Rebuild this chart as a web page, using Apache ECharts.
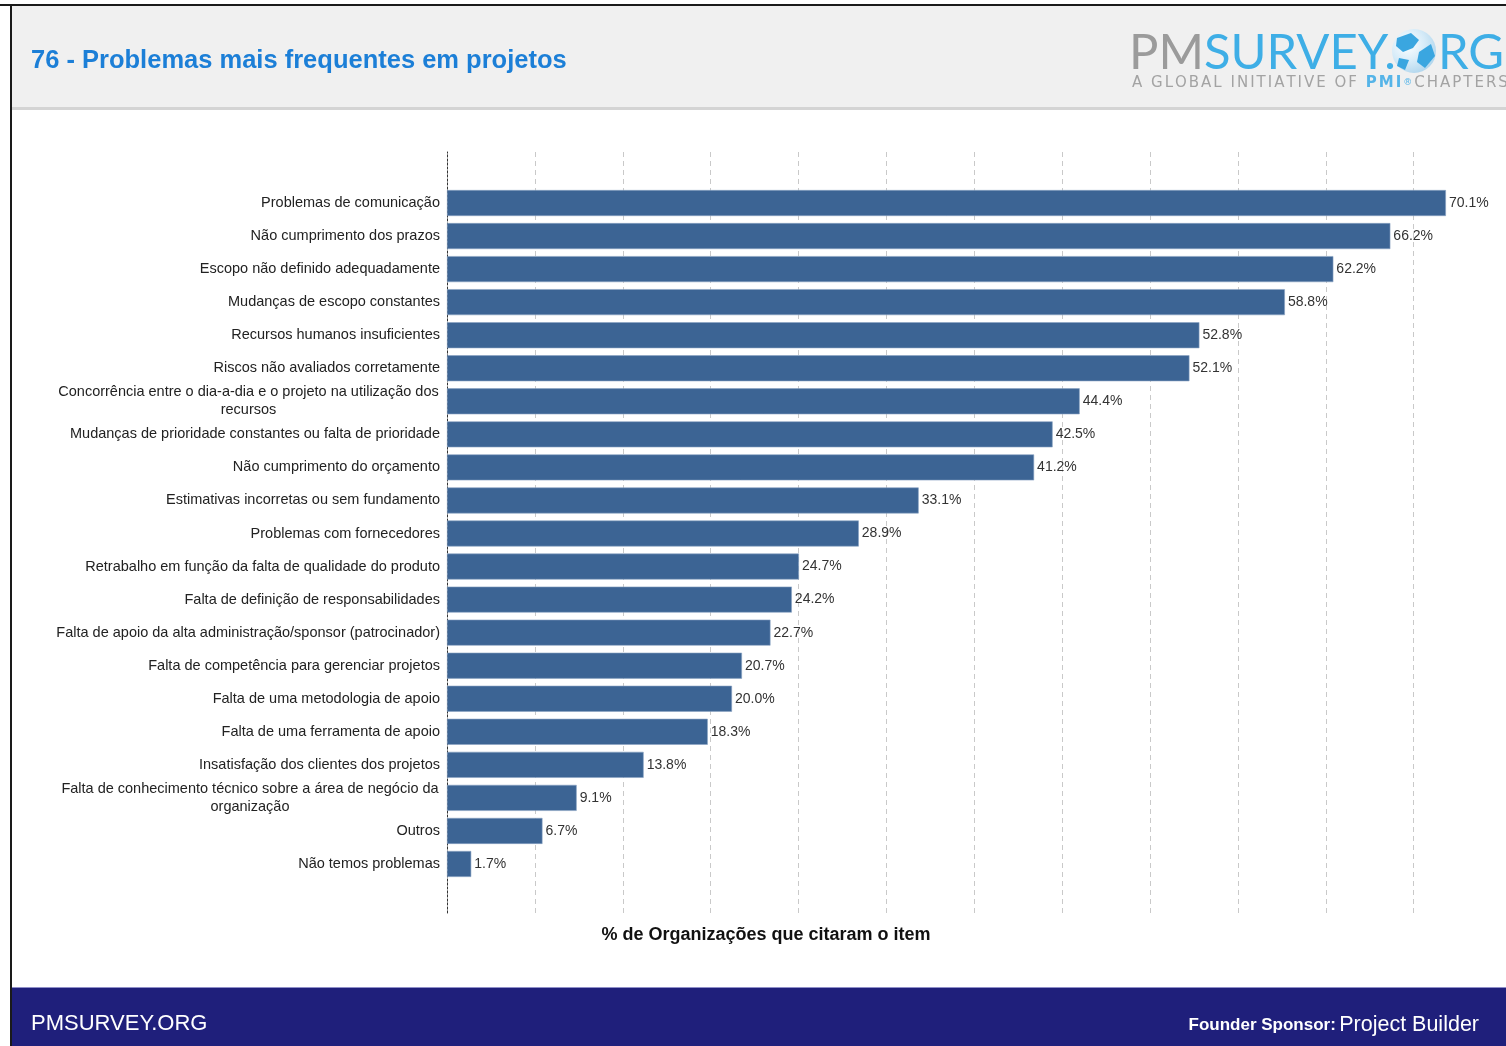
<!DOCTYPE html>
<html>
<head>
<meta charset="utf-8">
<script src="https://cdn.jsdelivr.net/npm/echarts@6/dist/echarts.min.js"></script>
<style>
html,body{margin:0;padding:0;background:#fff;}
#chart{width:1506px;height:1046px;}
</style>
</head>
<body>
<div id="chart"></div>
<script>
const categories = [
  "Problemas de comunicação",
  "Não cumprimento dos prazos",
  "Escopo não definido adequadamente",
  "Mudanças de escopo constantes",
  "Recursos humanos insuficientes",
  "Riscos não avaliados corretamente",
  "Concorrência entre o dia-a-dia e o projeto na utilização dos\nrecursos",
  "Mudanças de prioridade constantes ou falta de prioridade",
  "Não cumprimento do orçamento",
  "Estimativas incorretas ou sem fundamento",
  "Problemas com fornecedores",
  "Retrabalho em função da falta de qualidade do produto",
  "Falta de definição de responsabilidades",
  "Falta de apoio da alta administração/sponsor (patrocinador)",
  "Falta de competência para gerenciar projetos",
  "Falta de uma metodologia de apoio",
  "Falta de uma ferramenta de apoio",
  "Insatisfação dos clientes dos projetos",
  "Falta de conhecimento técnico sobre a área de negócio da\norganização",
  "Outros",
  "Não temos problemas"
];
const percentValues = [70.1, 66.2, 62.2, 58.8, 52.8, 52.1, 44.4, 42.5, 41.2, 33.1, 28.9, 24.7, 24.2, 22.7, 20.7, 20.0, 18.3, 13.8, 9.1, 6.7, 1.7];
const titleText = "76 - Problemas mais frequentes em projetos";
const axisTitle = "% de Organizações que citaram o item";

const FONT = '"Liberation Sans", Arial, sans-serif';
const LABEL_SIZE = 14.5;
const chart = echarts.init(document.getElementById('chart'), null, {renderer: 'canvas'});

const cv = document.createElement('canvas').getContext('2d');
cv.font = LABEL_SIZE + 'px ' + FONT;
function measure(t){ return Math.ceil(cv.measureText(t).width); }

const X_MAX = 74;
const X_INT = X_MAX / 12;

const yData = categories.map(function(c){
  if (c.indexOf('\n') >= 0) {
    const lines = c.split('\n');
    const w = Math.max.apply(null, lines.map(measure)) + 2;
    return {
      value: c,
      textStyle: {
        rich: { w: { width: w, align: 'center', fontSize: LABEL_SIZE, fontFamily: FONT, color: '#222', lineHeight: 18 } }
      }
    };
  }
  return c;
});

const LOGO_FONT = 'Lato, "Open Sans", sans-serif';
// letter-spaced subtitle via rich tokens
function spaced(str, key){
  return str.split('').map(function(ch){ return '{' + key + '|' + ch + '}'; }).join('');
}
const subtitleRich = spaced('A GLOBAL INITIATIVE OF ', 'g') + spaced('PMI', 'b') + '{s|®}' + spaced('CHAPTERS', 'g');
const SUB_FONT = '"DejaVu Sans", sans-serif';

const option = {
  animation: false,
  backgroundColor: '#ffffff',
  graphic: [
    { type: 'rect', shape: {x: 12, y: 6, width: 1494, height: 102}, style: {fill: '#f0f0f0'}, z: 0 },
    { type: 'rect', shape: {x: 12, y: 107, width: 1494, height: 3}, style: {fill: '#d4d4d4'}, z: 0 },
    { type: 'rect', shape: {x: 0, y: 4, width: 1506, height: 2}, style: {fill: '#1a1a1a'}, z: 1 },
    { type: 'rect', shape: {x: 10, y: 4, width: 2, height: 1042}, style: {fill: '#1a1a1a'}, z: 1 },
    { type: 'text', x: 31, y: 61, style: { text: titleText, verticalAlign: 'middle', fill: '#1c7fd7', font: 'bold 25.5px ' + FONT }, z: 2 },
    { type: 'text', x: 1129, y: 53, style: {
        text: '{g|PM}{b|SURVEY.}', verticalAlign: 'middle',
        rich: { g: {fill: '#9b9b9b', fontSize: 49, fontFamily: LOGO_FONT},
                b: {fill: '#3eaee6', fontSize: 49, fontFamily: LOGO_FONT} } }, z: 2 },
    { type: 'circle', shape: {cx: 1414, cy: 51, r: 22}, style: {
        fill: new echarts.graphic.RadialGradient(0.35, 0.35, 0.8, [
          {offset: 0, color: '#ffffff'}, {offset: 0.5, color: '#d6ebf8'}, {offset: 1, color: '#a6d0ea'}]) }, z: 3 },
    { type: 'polygon', shape: {points: [[1397,38],[1411,33],[1419,40],[1413,48],[1403,52],[1396,46]]}, style: {fill: '#3aa6e0'}, z: 4 },
    { type: 'polygon', shape: {points: [[1419,52],[1431,44],[1435,56],[1425,68],[1417,62]]}, style: {fill: '#3aa6e0'}, z: 4 },
    { type: 'polygon', shape: {points: [[1399,58],[1409,60],[1405,70],[1397,66]]}, style: {fill: '#3aa6e0'}, z: 4 },
    { type: 'text', x: 1438, y: 53, style: { text: 'RG', verticalAlign: 'middle', fill: '#3eaee6', font: '49px ' + LOGO_FONT }, z: 2 },
    { type: 'text', x: 1132, y: 83, style: {
        text: subtitleRich, verticalAlign: 'middle',
        rich: { g: {fill: '#a3a3a3', fontSize: 15, fontFamily: SUB_FONT, padding: [0, 2, 0, 0]},
                b: {fill: '#55b4e8', fontSize: 15, fontFamily: SUB_FONT, fontWeight: 'bold', padding: [0, 2, 0, 0]},
                s: {fill: '#55b4e8', fontSize: 9, fontFamily: SUB_FONT, padding: [0, 2, 0, 0]} } }, z: 2 },
    { type: 'text', x: 766, y: 935, style: { text: axisTitle, align: 'center', verticalAlign: 'middle', fill: '#111', font: 'bold 18px ' + FONT }, z: 2 },
    { type: 'rect', shape: {x: 12, y: 988, width: 1494, height: 58}, style: {fill: '#1f1f7b'}, z: 0 },
    { type: 'rect', shape: {x: 12, y: 987, width: 1494, height: 1}, style: {fill: '#8f8fc8'}, z: 0 },
    { type: 'text', x: 31, y: 1024, style: { text: 'PMSURVEY.ORG', verticalAlign: 'middle', fill: '#ffffff', font: '22px ' + FONT }, z: 2 },
    { type: 'text', x: 1479, y: 1025, style: {
        text: '{a|Founder Sponsor:} {b|Project Builder}', align: 'right', verticalAlign: 'middle',
        rich: { a: {fill: '#ffffff', fontSize: 17, fontWeight: 'bold', fontFamily: FONT},
                b: {fill: '#ffffff', fontSize: 21.5, fontFamily: FONT} } }, z: 2 }
  ],
  grid: [
    { left: 447, top: 152, width: X_MAX * 14.25, height: 761, containLabel: false },
    { left: 447, top: 186.5, width: X_MAX * 14.25, height: 694, containLabel: false }
  ],
  xAxis: [
    { type: 'value', gridIndex: 0, min: 0, max: X_MAX, interval: X_INT,
      axisLine: {show: false}, axisTick: {show: false}, axisLabel: {show: false},
      splitLine: {show: true, showMaxLine: false, lineStyle: {color: '#c9c9c9', width: 1, type: [5, 4]}} },
    { type: 'value', gridIndex: 1, min: 0, max: X_MAX, interval: X_INT, show: false, splitLine: {show: false} }
  ],
  yAxis: [
    { type: 'value', gridIndex: 0, min: 0, max: 1,
      axisLine: {show: true, lineStyle: {color: '#333', width: 1, type: [2, 2]}},
      axisTick: {show: false}, axisLabel: {show: false}, splitLine: {show: false} },
    { type: 'category', gridIndex: 1, inverse: true, data: yData,
      axisLine: {show: false}, axisTick: {show: false}, splitLine: {show: false},
      axisLabel: {
        show: true, margin: 7, fontSize: LABEL_SIZE, fontFamily: FONT, color: '#222', lineHeight: 18,
        formatter: function(v){
          if (v.indexOf('\n') >= 0) return v.split('\n').map(function(l){ return '{w|' + l + '}'; }).join('\n');
          return v;
        }
      } }
  ],
  series: [{
    type: 'bar', xAxisIndex: 1, yAxisIndex: 1,
    data: percentValues,
    barWidth: 26,
    itemStyle: { color: '#3c6494', borderColor: '#8aa3c2', borderWidth: 0.6 },
    label: { show: true, position: 'right', distance: 3, fontSize: 14, fontFamily: FONT, color: '#333',
      formatter: function(p){ return p.value.toFixed(1) + '%'; } }
  }]
};
chart.setOption(option);
</script>
</body>
</html>
